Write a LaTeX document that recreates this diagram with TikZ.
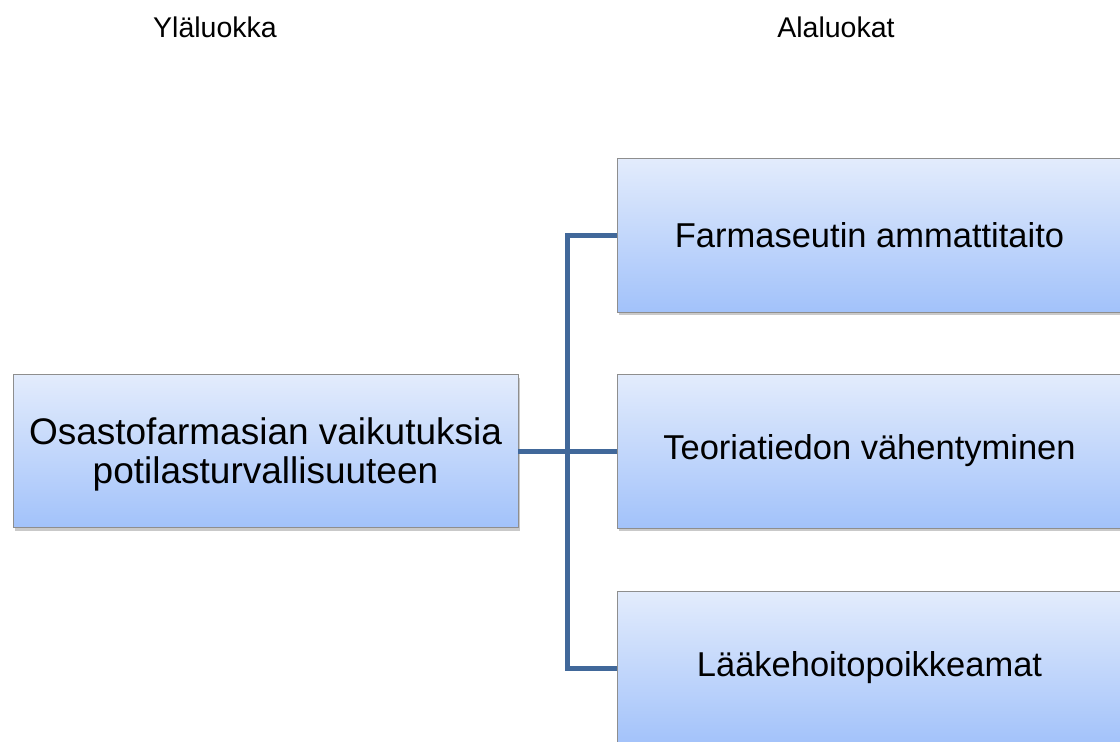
\documentclass[tikz,border=0pt]{standalone}
\usepackage{fontspec}
\setmainfont{Liberation Sans}
\usetikzlibrary{shadows}
\definecolor{boxtop}{HTML}{E3ECFC}
\definecolor{boxbottom}{HTML}{A2C2FA}
\definecolor{boxedge}{HTML}{8E8E8E}
\definecolor{linkblue}{HTML}{41689A}
\tikzset{
  catbox/.style={draw=boxedge, line width=0.8pt, top color=boxtop, bottom color=boxbottom,
    minimum width=505pt, minimum height=154pt, inner sep=0pt, align=center,
    drop shadow={shadow xshift=2pt, shadow yshift=-3pt, opacity=0.35, fill=black!60}},
  mainfont/.style={font=\fontsize{37}{39}\selectfont},
  subfont/.style={font=\fontsize{34.5}{40}\selectfont},
  heading/.style={font=\fontsize{28.5}{34}\selectfont, anchor=base},
  link/.style={draw=linkblue, line width=5pt, line join=miter}
}
\begin{document}
\begin{tikzpicture}[x=1pt, y=-1pt]
  \useasboundingbox (0,0) rectangle (1120,742);
  \fill[white] (0,0) rectangle (1120,742);
  \clip (0,0) rectangle (1120,742);

  % column headings
  \node[heading] (hupper) at (215,37) {Yläluokka};
  \node[heading] (hlower) at (836,37) {Alaluokat};

  % upper category
  \node[catbox, minimum height=153pt] (main) at (265.5,451) {};
  \node[mainfont, align=center] (maintext) at (265.5,454)
    {Osastofarmasian vaikutuksia\\potilasturvallisuuteen};

  % subcategories
  \node[catbox, subfont] (subA) at (869.5,235) {Farmaseutin ammattitaito};
  \node[catbox, subfont] (subB) at (869.5,451) {Teoriatiedon vähentyminen};
  \node[catbox, subfont] (subC) at (869.5,668) {Lääkehoitopoikkeamat};

  % connectors
  \coordinate (bus) at (567.5,451);
  \draw[link] (main.east) -- (subB.west);
  \draw[link] (subA.west) -| (bus) |- (subC.west);
\end{tikzpicture}
\end{document}
